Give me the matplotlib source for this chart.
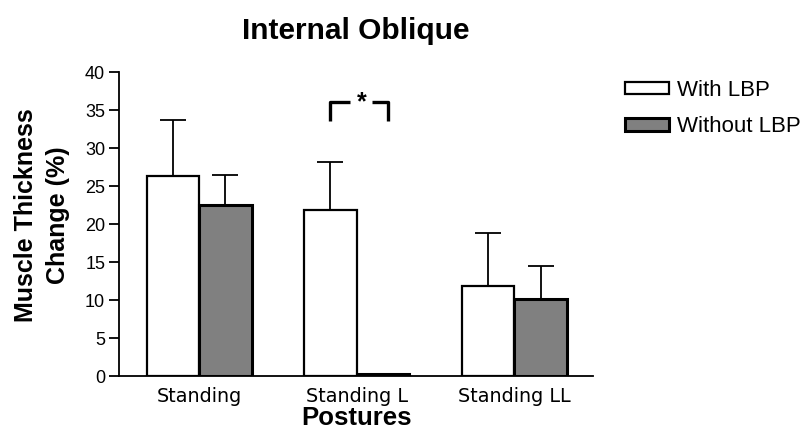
import matplotlib
matplotlib.use("Agg")
import matplotlib.pyplot as plt
import numpy as np

categories = ["Standing", "Standing L", "Standing LL"]
with_lbp = [26.3, 21.8, 11.8]
with_lbp_err = [7.4, 6.4, 7.0]
without_lbp = [22.5, 0.2, 10.1]
without_lbp_err = [3.9, 0.0, 4.4]
series_names = ["With LBP", "Without LBP"]
yticks = [0, 5, 10, 15, 20, 25, 30, 35, 40]

fig = plt.figure(figsize=(8.07, 4.34), dpi=100)
ax = fig.add_axes([0.1475, 0.1336, 0.5875, 0.7005])

x = np.arange(len(categories))
w = 1 / 3
b1 = ax.bar(x - w / 2, with_lbp, w, color="white", edgecolor="black", linewidth=1.6, zorder=3,
            label=series_names[0])
b2 = ax.bar(x + w / 2, without_lbp, w, color="#808080", edgecolor="black", linewidth=2.2, zorder=3,
            label=series_names[1])
ax.errorbar(x - w / 2, with_lbp, yerr=[np.zeros(3), with_lbp_err], fmt="none", ecolor="black",
            elinewidth=1.3, capsize=9.5, capthick=1.3, zorder=2)
mask = np.array(without_lbp_err) > 0
ax.errorbar((x + w / 2)[mask], np.array(without_lbp)[mask],
            yerr=[np.zeros(mask.sum()), np.array(without_lbp_err)[mask]], fmt="none", ecolor="black",
            elinewidth=1.3, capsize=9.5, capthick=1.3, zorder=2)

# significance bracket
xl, xr, xs = 1 - w / 2, 1.2, 1.03
ax.plot([xl, xl, xs - 0.07], [33.5, 36, 36], color="black", lw=2.4, solid_capstyle="butt", clip_on=False)
ax.plot([xs + 0.07, xr, xr], [36, 36, 33.5], color="black", lw=2.4, solid_capstyle="butt", clip_on=False)
ax.text(xs, 36.0, "*", ha="center", va="center", fontsize=18, fontweight="bold", family="Liberation Sans")

ax.set_xlim(-0.508, 2.5)
ax.set_ylim(0, 40)
ax.set_yticks(yticks)
ax.set_yticklabels([str(t) for t in yticks], family="Liberation Sans", fontsize=13)
ax.set_xticks(x)
ax.set_xticklabels(categories, family="DejaVu Sans", fontsize=13.8)
ax.tick_params(axis="x", length=0, pad=8)
ax.tick_params(axis="y", length=7, width=1.3, pad=3)
for s in ["top", "right"]:
    ax.spines[s].set_visible(False)
ax.spines["left"].set_linewidth(1.3)
ax.spines["bottom"].set_linewidth(1.3)

ax.set_xlabel("Postures", family="Liberation Sans", fontweight="bold", fontsize=18.5, labelpad=0)
ax.set_ylabel("Muscle Thickness\nChange (%)", family="Liberation Sans", fontweight="bold", fontsize=18,
              linespacing=1.42)
ax.yaxis.set_label_coords(-0.104, 0.53)
ax.set_title("Internal Oblique", family="Liberation Sans", fontweight="bold", fontsize=21.5, pad=24)

leg = fig.legend(handles=[b1, b2], labels=series_names, loc="upper left",
                 bbox_to_anchor=(625 / 807, 1 - 80 / 434), frameon=False,
                 prop={"family": "Liberation Sans", "size": 16},
                 handlelength=2.0, handleheight=0.5, handletextpad=0.36, labelspacing=0.68,
                 borderpad=0, borderaxespad=0)

fig.savefig("out.png", dpi=100)
